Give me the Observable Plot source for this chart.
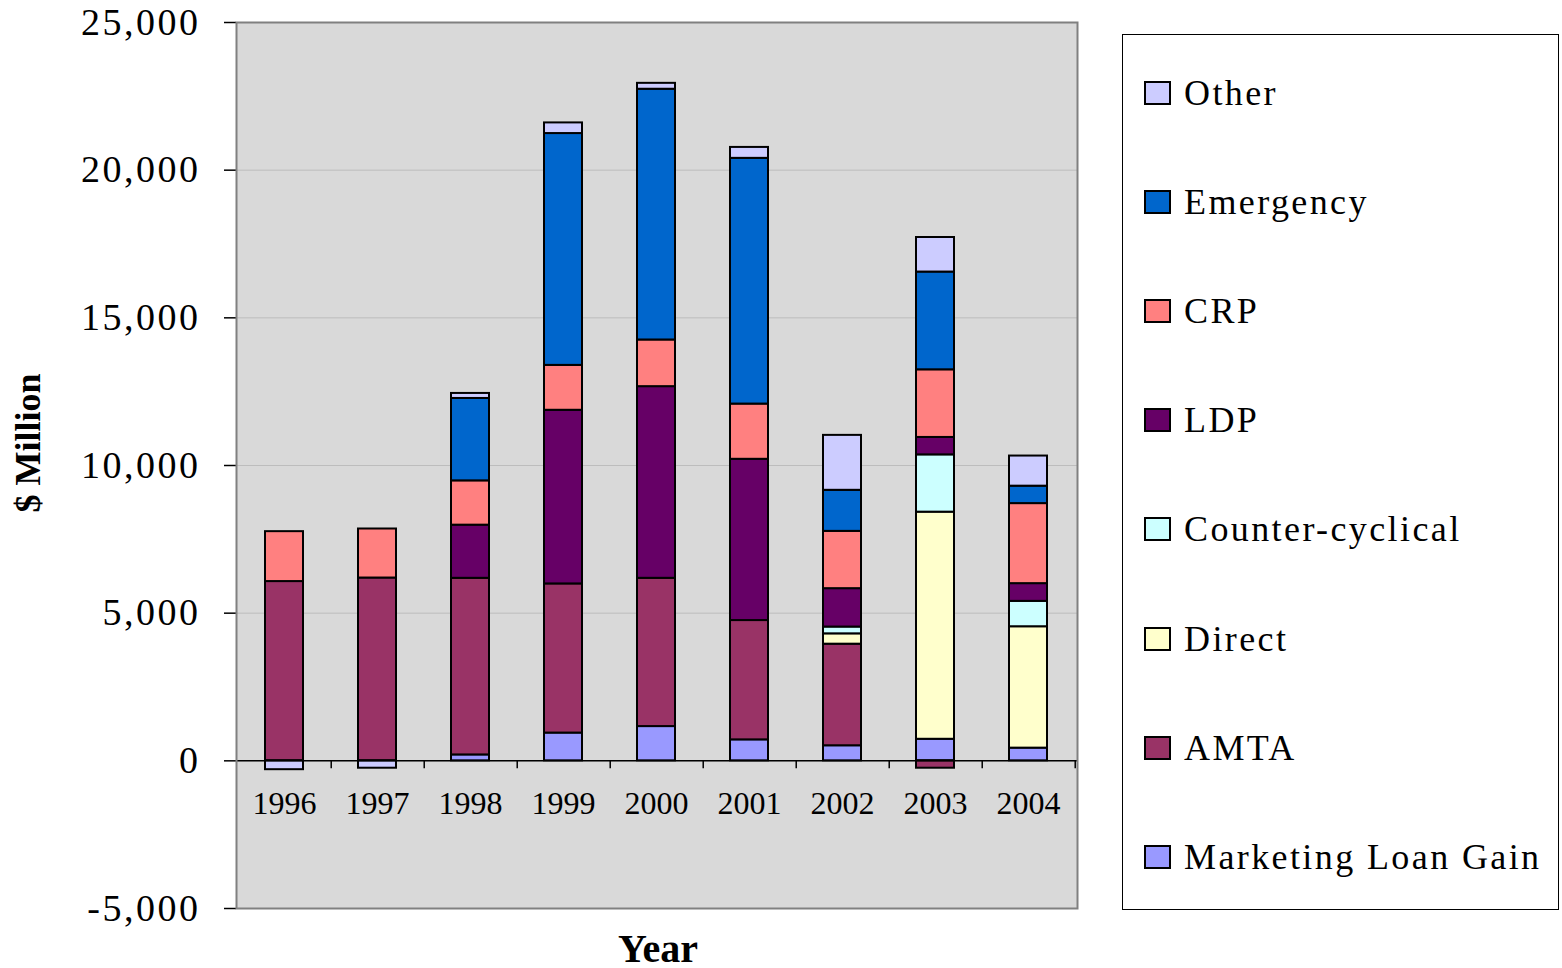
<!DOCTYPE html>
<html>
<head>
<meta charset="utf-8">
<script src="https://cdn.jsdelivr.net/npm/d3@7"></script>
<script src="https://cdn.jsdelivr.net/npm/@observablehq/plot@0.6"></script>
<style>
  html, body { margin: 0; padding: 0; background: #fff; overflow: hidden; }
  #wrap { position: relative; width: 1562px; height: 968px; font-family: "Liberation Serif", "Times New Roman", serif; }
  #legend { position: absolute; left: 1122px; top: 34px; width: 437px; height: 876px; border: 1.5px solid #000; box-sizing: border-box; background: #fff; }
  .item { position: absolute; left: 21px; display: flex; align-items: center; height: 40px; font-size: 36px; letter-spacing: 2.4px; color: #000; white-space: nowrap; }
  .sw { width: 23px; height: 20px; border: 2px solid #000; margin-right: 13px; flex: none; }
  .ytitle { position: absolute; left: 28px; top: 443px; transform: translate(-50%, -50%) rotate(-90deg); font-weight: bold; font-size: 36px; line-height: 36px; white-space: nowrap; }
  .xtitle { position: absolute; left: 658px; top: 929px; transform: translateX(-50%); font-weight: bold; font-size: 40px; line-height: 40px; white-space: nowrap; }
</style>
</head>
<body>
<div id="wrap"></div>
<script>
const years = ["1996", "1997", "1998", "1999", "2000", "2001", "2002", "2003", "2004"];
const seriesNames = ["Marketing Loan Gain", "AMTA", "Direct", "Counter-cyclical", "LDP", "CRP", "Emergency", "Other"];
const seriesColors = ["#9999FF", "#993366", "#FFFFCC", "#CCFFFF", "#660066", "#FF8080", "#0066CC", "#CCCCFF"];

const marketingLoanGain = [0, 0, 200, 940, 1160, 710, 510, 730, 430];
const amta              = [6070, 6190, 5980, 5050, 5020, 4040, 3440, -250, 0];
const direct            = [0, 0, 0, 0, 0, 0, 350, 7690, 4110];
const counterCyclical   = [0, 0, 0, 0, 0, 0, 230, 1940, 860];
const ldp               = [0, 0, 1800, 5880, 6490, 5460, 1300, 590, 600];
const crp               = [1690, 1660, 1500, 1520, 1580, 1870, 1940, 2290, 2710];
const emergency         = [0, 0, 2790, 7850, 8490, 8320, 1390, 3310, 590];
const other             = [-300, -250, 170, 360, 200, 370, 1860, 1170, 1020];

const yTicks = [-5000, 0, 5000, 10000, 15000, 20000, 25000];
const yTitle = "$ Million";
const xTitle = "Year";

const seriesValues = [marketingLoanGain, amta, direct, counterCyclical, ldp, crp, emergency, other];
const data = [];
seriesNames.forEach((s, i) => seriesValues[i].forEach((v, j) => data.push({year: years[j], series: s, value: v})));

const W = 1562, H = 968, ML = 236, MR = 485, MT = 22, MB = 60;
const yDomain = [yTicks[0], yTicks[yTicks.length - 1]];
const plotH = H - MT - MB;
const zeroShift = -plotH * (0 - yDomain[0]) / (yDomain[1] - yDomain[0]);
const step = (W - ML - MR) / years.length;

const svg = Plot.plot({
  width: W, height: H,
  marginLeft: ML, marginRight: MR, marginTop: MT, marginBottom: MB,
  style: {fontFamily: "'Liberation Serif', 'Times New Roman', serif", background: "transparent", color: "#000"},
  x: {domain: years, paddingInner: 0.59, paddingOuter: 0.295, axis: null},
  y: {domain: yDomain, axis: null},
  color: {domain: seriesNames, range: seriesColors},
  marks: [
    Plot.frame({fill: "#D9D9D9", stroke: "none"}),
    Plot.gridY(yTicks, {stroke: "#BDBDBD", strokeOpacity: 1, strokeWidth: 1}),
    Plot.barY(data.filter(d => d.value !== 0), {x: "year", y: "value", fill: "series", stroke: "#000", strokeWidth: 2, order: seriesNames}),
    Plot.ruleY([0], {stroke: "#000", strokeWidth: 1.5}),
    Plot.axisX(years, {anchor: "bottom", dy: zeroShift, dx: step / 2, tickSize: 8, tickFormat: () => "", label: null, strokeWidth: 1.5}),
    Plot.axisX(years, {anchor: "bottom", dy: zeroShift, tickSize: 0, tickPadding: 30, fontSize: 32, label: null}),
    Plot.axisY(yTicks, {anchor: "left", tickSize: 12, tickPadding: 24, fontSize: 38, label: null, tickFormat: d => d.toLocaleString("en-US"), strokeWidth: 1.5}),
    Plot.frame({stroke: "#808080", strokeWidth: 2})
  ]
});

d3.select(svg).selectAll("[aria-label='y-axis tick label'] text").style("letter-spacing", "2.5px");

const wrap = document.getElementById("wrap");
wrap.appendChild(svg);

const yt = document.createElement("div");
yt.className = "ytitle"; yt.textContent = yTitle; wrap.appendChild(yt);
const xt = document.createElement("div");
xt.className = "xtitle"; xt.textContent = xTitle; wrap.appendChild(xt);

const legend = document.createElement("div");
legend.id = "legend";
const legendOrder = seriesNames.slice().reverse();
legendOrder.forEach((name, i) => {
  const it = document.createElement("div");
  it.className = "item";
  it.style.top = (58 - 20 + i * 109.1) + "px";
  const sw = document.createElement("div");
  sw.className = "sw";
  sw.style.background = seriesColors[seriesNames.indexOf(name)];
  const lab = document.createElement("span");
  lab.textContent = name;
  it.appendChild(sw); it.appendChild(lab);
  legend.appendChild(it);
});
wrap.appendChild(legend);
</script>
</body>
</html>
